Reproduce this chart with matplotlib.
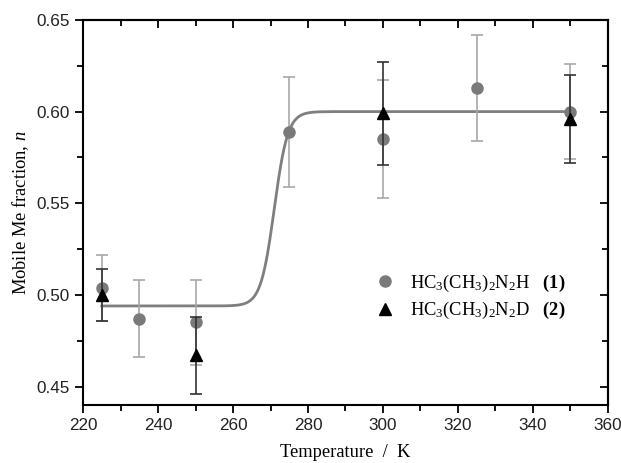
import numpy as np
import matplotlib
matplotlib.use("Agg")
import matplotlib.pyplot as plt
from matplotlib.ticker import MultipleLocator, FormatStrFormatter
from matplotlib.lines import Line2D

plt.rcParams['mathtext.fontset'] = 'custom'
plt.rcParams['mathtext.rm'] = 'Liberation Serif'
plt.rcParams['mathtext.it'] = 'Liberation Serif:italic'
plt.rcParams['mathtext.bf'] = 'Liberation Serif:bold'

# Data
T1 = [225, 235, 250, 275, 300, 325, 350]
n1 = [0.504, 0.487, 0.485, 0.589, 0.585, 0.613, 0.600]
e1 = [0.018, 0.021, 0.023, 0.030, 0.032, 0.029, 0.026]

T2 = [225, 250, 300, 350]
n2 = [0.500, 0.467, 0.599, 0.596]
e2 = [0.014, 0.021, 0.028, 0.024]

# Fitted sigmoid parameters
fit_low = 0.494
fit_high = 0.600
fit_T0 = 271.0
fit_w = 1.8
fit_range = (225, 350)

label1 = r'HC$_3$(CH$_3$)$_2$N$_2$H   $\mathbf{(1)}$'
label2 = r'HC$_3$(CH$_3$)$_2$N$_2$D   $\mathbf{(2)}$'

c1_marker = '#7a7a7a'
c1_err = '#a8a8a8'
c2 = 'black'

fig = plt.figure(figsize=(6.21, 4.63), dpi=100)
ax = fig.add_axes([0.1337, 0.1253, 0.979 - 0.1337, 0.957 - 0.1253])

Tf = np.linspace(fit_range[0], fit_range[1], 600)
nf = fit_low + (fit_high - fit_low) / (1 + np.exp(-(Tf - fit_T0) / fit_w))
ax.plot(Tf, nf, color='#7f7f7f', lw=2.0, zorder=2)

ax.errorbar(T1, n1, yerr=e1, fmt='o', color=c1_marker, ecolor=c1_err,
            elinewidth=1.2, capsize=4, capthick=1.2, markersize=8, zorder=3)
ax.errorbar(T2, n2, yerr=e2, fmt='^', color=c2, ecolor='#333333',
            elinewidth=1.2, capsize=4, capthick=1.2, markersize=9, zorder=4)

ax.set_xlim(220, 360)
ax.set_ylim(0.44, 0.65)
ax.xaxis.set_major_locator(MultipleLocator(20))
ax.xaxis.set_minor_locator(MultipleLocator(10))
ax.yaxis.set_major_locator(MultipleLocator(0.05))
ax.yaxis.set_minor_locator(MultipleLocator(0.025))
ax.yaxis.set_major_formatter(FormatStrFormatter('%.2f'))

ax.tick_params(which='both', direction='out', top=False, right=False,
               width=1.3, labelsize=12.3, colors='black')
ax.tick_params(which='major', length=6)
ax.tick_params(which='minor', length=4)

# inward ticks on top and right
axt = ax.secondary_xaxis('top')
axt.xaxis.set_major_locator(MultipleLocator(20))
axt.xaxis.set_minor_locator(MultipleLocator(10))
axt.tick_params(which='both', direction='in', labeltop=False, width=1.3)
axt.tick_params(which='major', length=6)
axt.tick_params(which='minor', length=4)
axr = ax.secondary_yaxis('right')
axr.yaxis.set_major_locator(MultipleLocator(0.05))
axr.yaxis.set_minor_locator(MultipleLocator(0.025))
axr.tick_params(which='both', direction='in', labelright=False, width=1.3)
axr.tick_params(which='major', length=6)
axr.tick_params(which='minor', length=4)
for a in (axt, axr):
    for s in a.spines.values():
        s.set_linewidth(1.5)

for lab in ax.get_xticklabels() + ax.get_yticklabels():
    lab.set_family('Liberation Sans')
    lab.set_color('#222222')

for s in ax.spines.values():
    s.set_linewidth(1.5)

ax.set_xlabel('Temperature  /  K', family='Liberation Serif', fontsize=13.3,
              labelpad=8)
ax.set_ylabel(r'Mobile Me fraction, $\mathit{n}$', family='Liberation Serif',
              fontsize=13.3, labelpad=4)

handles = [
    Line2D([], [], ls='none', marker='o', color=c1_marker, markersize=8),
    Line2D([], [], ls='none', marker='^', color=c2, markersize=9),
]
ax.legend(handles, [label1, label2], loc='center left',
          bbox_to_anchor=(0.518, 0.281), frameon=False,
          prop={'family': 'Liberation Serif', 'size': 13.3},
          handletextpad=0.6, labelspacing=0.35, handlelength=1.5,
          borderpad=0.4)

fig.savefig('out.png', dpi=100)
